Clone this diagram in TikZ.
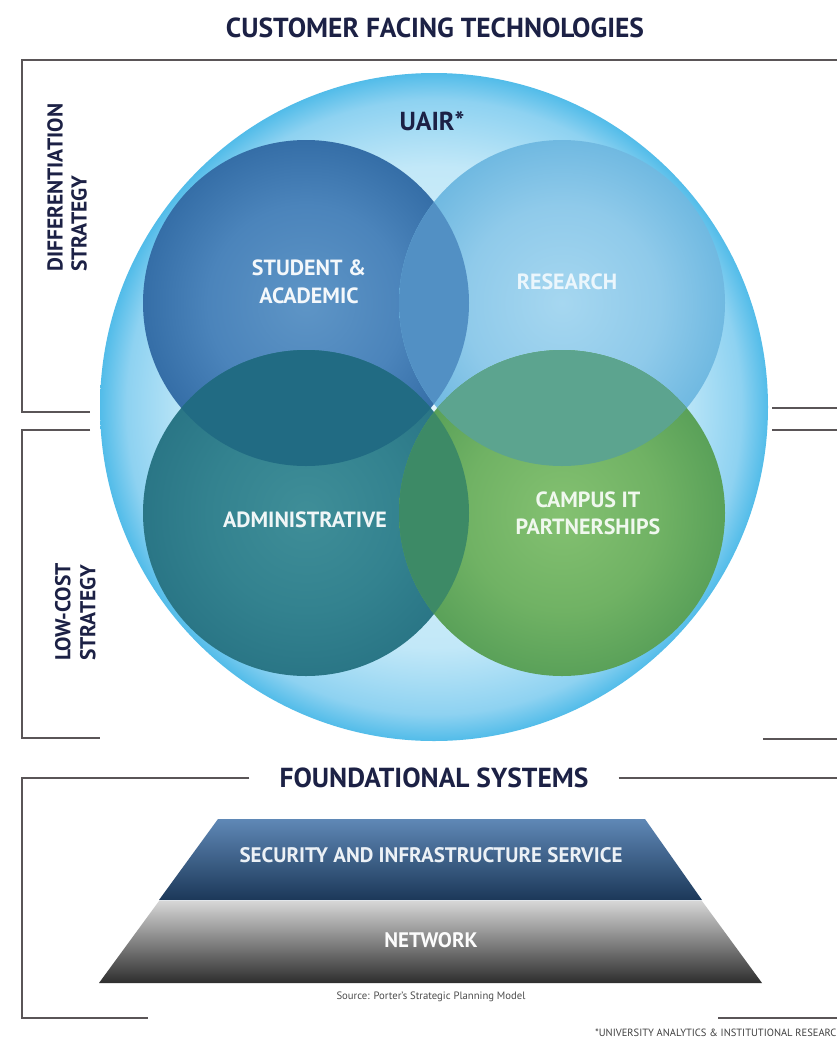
\documentclass[tikz,border=0pt]{standalone}
\usepackage{fontspec}
\setmainfont{PT Sans}

% palette
\definecolor{navy}{HTML}{1C2145}
\definecolor{rule}{HTML}{5A5557}
\definecolor{uairA}{HTML}{E2F4FC}
\definecolor{uairB}{HTML}{C2E8F8}
\definecolor{uairC}{HTML}{8ED2F1}
\definecolor{uairD}{HTML}{52BCE9}
\definecolor{studA}{HTML}{5E95C6}
\definecolor{studB}{HTML}{4B84BB}
\definecolor{studC}{HTML}{356EA7}
\definecolor{resA}{HTML}{A6D7F0}
\definecolor{resB}{HTML}{8FCAEA}
\definecolor{resC}{HTML}{70B9E1}
\definecolor{admA}{HTML}{3F8E98}
\definecolor{admB}{HTML}{33828F}
\definecolor{admC}{HTML}{2A7686}
\definecolor{camA}{HTML}{84C171}
\definecolor{camB}{HTML}{70B264}
\definecolor{camC}{HTML}{5AA159}
\definecolor{lensSR}{HTML}{5290C4}
\definecolor{lensSA}{HTML}{216B83}
\definecolor{lensRC}{HTML}{5CA48F}
\definecolor{lensAC}{HTML}{3D8A66}
\definecolor{secTop}{HTML}{5F88B6}
\definecolor{secBot}{HTML}{1C3859}
\definecolor{netTop}{HTML}{D6D6D6}
\definecolor{netBot}{HTML}{2E2E2E}

% radial shadings: 25bp is the rim of the shaded circle
\pgfdeclareradialshading{uairfill}{\pgfpoint{0bp}{0bp}}{color(0bp)=(uairA); color(18bp)=(uairB); color(23bp)=(uairC); color(25bp)=(uairD); color(50bp)=(uairD)}
\pgfdeclareradialshading{studfill}{\pgfpoint{0bp}{0bp}}{color(0bp)=(studA); color(15bp)=(studB); color(25bp)=(studC); color(50bp)=(studC)}
\pgfdeclareradialshading{resfill}{\pgfpoint{0bp}{0bp}}{color(0bp)=(resA); color(15bp)=(resB); color(25bp)=(resC); color(50bp)=(resC)}
\pgfdeclareradialshading{admfill}{\pgfpoint{0bp}{0bp}}{color(0bp)=(admA); color(15bp)=(admB); color(25bp)=(admC); color(50bp)=(admC)}
\pgfdeclareradialshading{camfill}{\pgfpoint{0bp}{0bp}}{color(0bp)=(camA); color(15bp)=(camB); color(25bp)=(camC); color(50bp)=(camC)}

\begin{document}
\begin{tikzpicture}[x=1pt,y=-1pt,
  bracket/.style={draw=rule, line width=2.4pt},
  heading/.style={text=navy, font=\fontsize{27.5}{30}\selectfont\bfseries, inner sep=0pt},
  sidelabel/.style={text=navy, font=\fontsize{21.5}{24}\selectfont\bfseries, align=left, rotate=90, inner sep=0pt, anchor=south west},
  circlelabel/.style={font=\fontsize{22}{28}\selectfont\bfseries, align=center, inner sep=0pt},
  baselabel/.style={font=\fontsize{21}{24}\selectfont\bfseries, inner sep=0pt},
]
\useasboundingbox (0,0) rectangle (837,1039);
\fill[white] (0,0) rectangle (837,1039);

% circle centres
\coordinate (cU) at (434,407);
\coordinate (cS) at (306,303);
\coordinate (cR) at (562,303);
\coordinate (cA) at (306,513);
\coordinate (cC) at (562,513);

% brackets around the strategy bands
\draw[bracket] (837,60) -- (22,60) -- (22,412) -- (90,412);
\draw[bracket] (90,430) -- (22,430) -- (22,738) -- (100,738);
\draw[bracket] (772,408) -- (837,408);
\draw[bracket] (772,430) -- (837,430);
\draw[bracket] (763,739) -- (837,739);

% outer UAIR circle
\shade[shading=uairfill] (cU) circle[radius=334pt];

% the four areas
\shade[shading=studfill] (cS) circle[radius=163pt];
\shade[shading=resfill] (cR) circle[radius=163pt];
\shade[shading=admfill] (cA) circle[radius=163pt];
\shade[shading=camfill] (cC) circle[radius=163pt];

% overlaps
\begin{scope}
  \clip (cS) circle[radius=163pt];
  \fill[lensSR] (cR) circle[radius=163pt];
\end{scope}
\begin{scope}
  \clip (cS) circle[radius=163pt];
  \fill[lensSA] (cA) circle[radius=163pt];
\end{scope}
\begin{scope}
  \clip (cR) circle[radius=163pt];
  \fill[lensRC] (cC) circle[radius=163pt];
\end{scope}
\begin{scope}
  \clip (cA) circle[radius=163pt];
  \fill[lensAC] (cC) circle[radius=163pt];
\end{scope}

% headings
\node[heading] (title) at (435,28) {CUSTOMER FACING TECHNOLOGIES};
\node[heading, font=\fontsize{26}{28}\selectfont\bfseries] (uair) at (432,121) {UAIR*};

% strategy labels
\node[sidelabel] (diff) at (87,272) {DIFFERENTIATION\\STRATEGY};
\node[sidelabel, font=\fontsize{21.5}{25}\selectfont\bfseries] (lowcost) at (96,661) {LOW-COST\\STRATEGY};

% area labels
\node[circlelabel, text=white!93!studA] (student) at (309,282) {STUDENT \&\\ACADEMIC};
\node[circlelabel, text=white!78!resA] (research) at (567,282) {RESEARCH};
\node[circlelabel, text=white!92!admA] (admin) at (305,520) {ADMINISTRATIVE};
\node[circlelabel, text=white!88!camA, font=\fontsize{22}{27}\selectfont\bfseries] (campus) at (588,513) {CAMPUS IT\\PARTNERSHIPS};

% foundational systems
\node[heading] (found) at (434,778) {FOUNDATIONAL SYSTEMS};
\draw[bracket] (found.west) ++(-30,0) -- (22,778) -- (22,1018) -- (148,1018);
\draw[bracket] (found.east) ++(30,0) -- (837,778);
\draw[bracket] (718,1018) -- (837,1018);

\shade[top color=secTop, bottom color=secBot] (218,819) -- (645,819) -- (702,900) -- (159,900) -- cycle;
\shade[top color=netTop, bottom color=netBot] (159,901) -- (702,901) -- (762,983) -- (99,983) -- cycle;
\node[baselabel, text=white!88!secTop] (security) at (431,855) {SECURITY AND INFRASTRUCTURE SERVICE};
\node[baselabel, text=white!92!netTop] (network) at (431,940) {NETWORK};

\node[font=\fontsize{10.7}{12}\selectfont, text=black!70, inner sep=0pt] (source) at (431,997) {Source: Porter's Strategic Planning Model};
% the footnote runs past the right edge of the page
\node[font=\fontsize{10.5}{12}\selectfont, text=black!75, anchor=west, inner sep=0pt] (note) at (595,1033) {*UNIVERSITY ANALYTICS \& INSTITUTIONAL RESEARCH};
\end{tikzpicture}
\end{document}
